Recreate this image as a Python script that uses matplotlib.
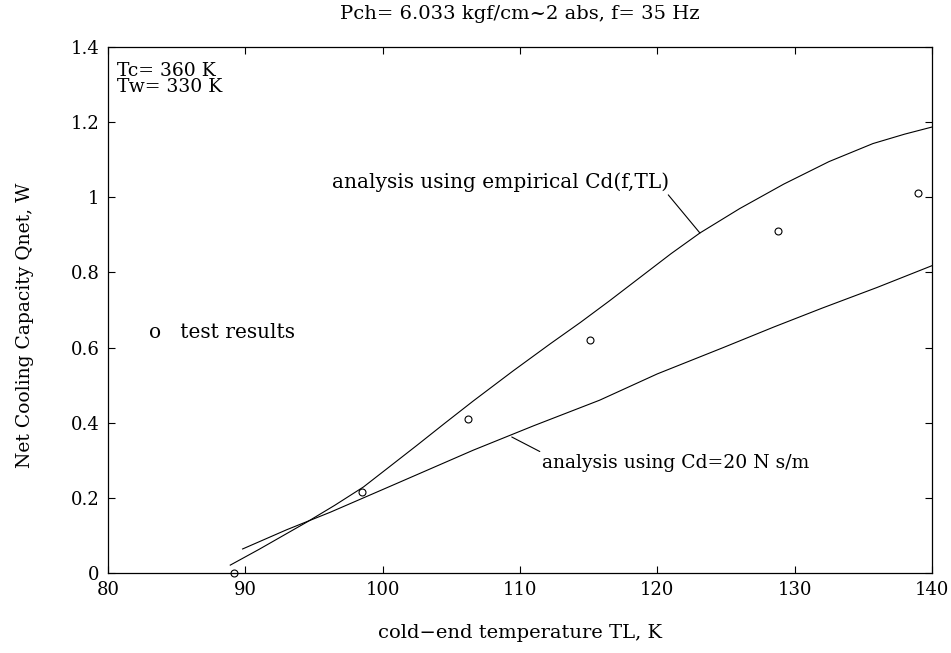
import numpy as np
import matplotlib.pyplot as plt

plt.rcParams['font.family'] = ['DejaVu Serif']

# test results
test_TL = [89.2, 98.5, 106.2, 115.1, 128.8, 139.0]
test_Q = [0.0, 0.215, 0.41, 0.62, 0.91, 1.012]

# analysis using empirical Cd(f,TL)
emp_TL = [88.9, 91.0, 94.5, 96.5, 98.6, 100.5, 102.5, 104.5, 106.6, 109.5, 112.2, 114.4,
          116.5, 118.5, 121.0, 123.1, 126.0, 129.2, 132.5, 135.7, 138.0, 140.0]
emp_Q = [0.021, 0.063, 0.136, 0.18, 0.229, 0.283, 0.34, 0.398, 0.458, 0.538, 0.61, 0.667,
         0.724, 0.78, 0.85, 0.905, 0.97, 1.035, 1.095, 1.143, 1.168, 1.187]

# analysis using Cd=20 N s/m
cd_TL = [89.8, 93.0, 96.2, 101.0, 106.6, 111.0, 115.8, 120.0, 124.8, 128.5, 132.0, 136.0, 140.0]
cd_Q = [0.064, 0.115, 0.162, 0.238, 0.327, 0.392, 0.46, 0.53, 0.6, 0.655, 0.705, 0.76, 0.818]

fig = plt.figure(figsize=(9.51, 6.53), dpi=100)
ax = fig.add_axes([0.1136, 0.1225, 0.8664, 0.8055])

ax.plot(emp_TL, emp_Q, color='black', lw=0.8)
ax.plot(cd_TL, cd_Q, color='black', lw=0.8)
ax.plot(test_TL, test_Q, 'o', mfc='none', mec='black', ms=5, mew=0.8, clip_on=False)

ax.set_xlim(80, 140)
ax.set_ylim(0, 1.4)
ax.set_xticks([80, 90, 100, 110, 120, 130, 140])
ax.set_xticklabels(['80', '90', '100', '110', '120', '130', '140'])
ax.set_yticks([0, 0.2, 0.4, 0.6, 0.8, 1.0, 1.2, 1.4])
ax.set_yticklabels(['0', '0.2', '0.4', '0.6', '0.8', '1', '1.2', '1.4'])
ax.tick_params(direction='in', top=True, right=True, length=5, width=0.8,
               labelsize=13, pad=6)
for s in ax.spines.values():
    s.set_linewidth(0.9)

ax.set_title('Pch= 6.033 kgf/cm~2 abs, f= 35 Hz', fontsize=14, pad=20)
ax.set_xlabel('cold\u2212end temperature TL, K', fontsize=14, labelpad=18)
ax.set_ylabel('Net Cooling Capacity Qnet, W', fontsize=13.5)
ax.yaxis.set_label_coords(-0.09, 0.47)

ax.text(80.65, 1.36, 'Tc= 360 K\nTw= 330 K', fontsize=13.5, va='top', linespacing=0.85)
ax.text(83.0, 0.64, 'o   test results', fontsize=14.5, va='center')

ax.annotate('analysis using empirical Cd(f,TL)', xy=(123.1, 0.905), xytext=(108.6, 1.04),
            fontsize=14.5, ha='center', va='center',
            arrowprops=dict(arrowstyle='-', color='black', lw=0.8, shrinkA=0, shrinkB=0,
                            relpos=(0.99, 0.0)))
ax.annotate('analysis using Cd=20 N s/m', xy=(109.4, 0.362), xytext=(121.3, 0.292),
            fontsize=13.5, ha='center', va='center',
            arrowprops=dict(arrowstyle='-', color='black', lw=0.8, shrinkA=0, shrinkB=0,
                            relpos=(0.02, 0.95)))

fig.savefig('out.png', dpi=100)
